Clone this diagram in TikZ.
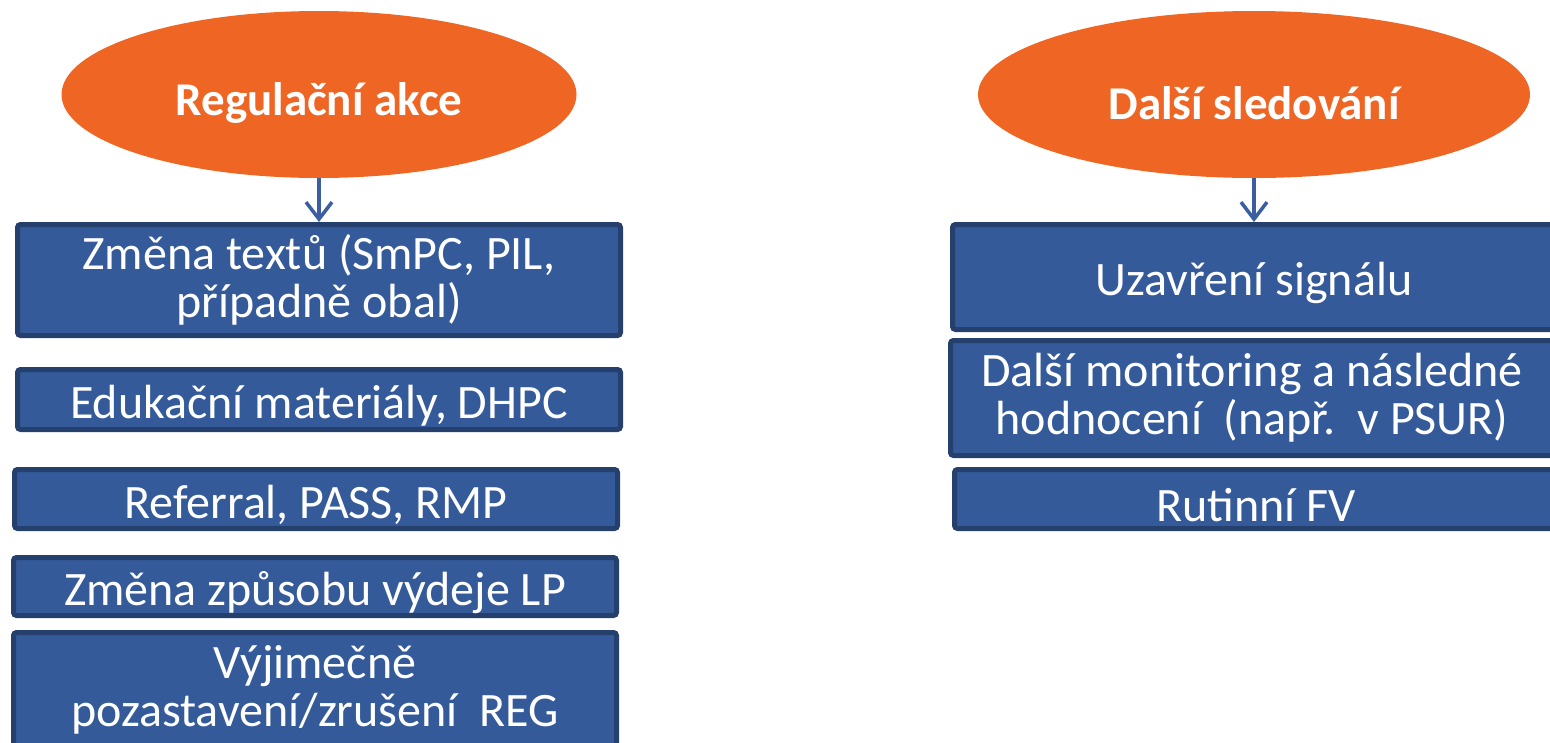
\documentclass[tikz,border=0pt]{standalone}
\usepackage{fontspec}
\setmainfont{Carlito}
\usetikzlibrary{shapes.geometric}
\usetikzlibrary{arrows.meta}
\definecolor{oranzova}{RGB}{239,101,36}
\definecolor{modra}{RGB}{52,90,154}
\definecolor{modratmava}{RGB}{37,64,108}
\definecolor{sipka}{RGB}{58,94,160}

\tikzset{
    akce/.style={ellipse, fill=oranzova, inner sep=0pt, minimum height=167, text=white,
        font=\fontsize{47}{48}\selectfont\bfseries, execute at begin node={\rule{0pt}{50pt}}},
    box/.style={rectangle, draw=modratmava, line width=5pt, fill=modra, rounded corners=3pt,
        text=white, align=center, inner sep=0pt, font=\fontsize{48}{48}\selectfont,
        execute at begin node={\rule{0pt}{46pt}}},
    pfeil/.style={sipka, line width=3.5pt, -{Straight Barb[length=17pt,width=26pt]}}
}

\begin{document}
\begin{tikzpicture}[x=1pt, y=-1pt]

    \useasboundingbox (0,0) rectangle (1550,742);
    \clip (0,0) rectangle (1550,742);

    % ovals
    \node[akce, minimum width=515] (regul) at (319,94.5) {Regulační akce};
    \node[akce, minimum width=552] (dalsi) at (1254,94.5) {Další sledování};

    % left column
    \node[box, minimum width=603, minimum height=111] (zmena) at (319,280) {Změna textů (SmPC, PIL,\\případně obal)};
    \node[box, minimum width=603, minimum height=60] (eduk) at (319,399.5) {Edukační materiály, DHPC};
    \node[box, minimum width=603, minimum height=59] (referral) at (316,499) {Referral, PASS, RMP};
    \node[box, minimum width=603, minimum height=58] (vydej) at (315,586.5) {Změna způsobu výdeje LP};
    \node[box, minimum width=603, minimum height=115] (pozast) at (315,690) {Výjimečně\\pozastavení/zrušení\ \ REG};

    % right column
    \node[box, minimum width=603, minimum height=105] (uzavreni) at (1254,277) {Uzavření signálu};
    \node[box, minimum width=603, minimum height=115] (monitoring) at (1252,398) {Další monitoring a následné\\hodnocení\ \ (např.\ \ v PSUR)};
    \node[box, minimum width=603, minimum height=59] (rutinni) at (1256,499) {Rutinní FV};

    \draw[pfeil] (regul.south) -- (zmena.north);
    \draw[pfeil] (dalsi.south) -- (uzavreni.north);

\end{tikzpicture}
\end{document}
